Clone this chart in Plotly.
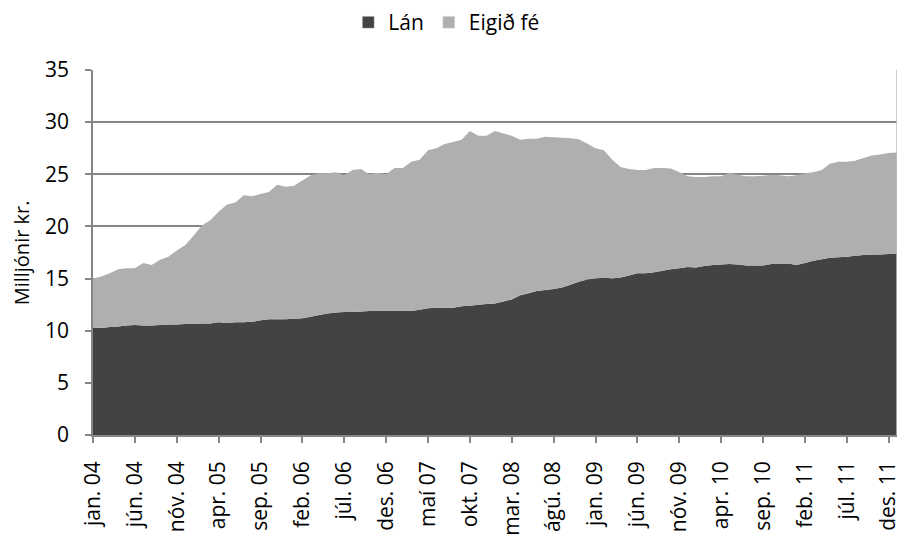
import plotly.graph_objects as go

month_names = ["jan.", "feb.", "mar.", "apr.", "maí", "jún.", "júl.", "ágú.", "sep.", "okt.", "nóv.", "des."]
years = ["04", "05", "06", "07", "08", "09", "10", "11", "12"]
categories = [f"{m} {y}" for y in years for m in month_names][:97]

lan = [10.3, 10.25, 10.35, 10.4, 10.5, 10.55, 10.5, 10.5, 10.55, 10.6,
       10.6, 10.65, 10.65, 10.7, 10.7, 10.8, 10.75, 10.8, 10.8, 10.85,
       11.0, 11.1, 11.1, 11.1, 11.15, 11.2, 11.35, 11.5, 11.65, 11.75,
       11.8, 11.8, 11.85, 11.9, 11.9, 11.9, 11.9, 11.95, 11.9, 12.0,
       12.15, 12.2, 12.2, 12.2, 12.35, 12.4, 12.5, 12.55, 12.6, 12.8,
       13.0, 13.4, 13.6, 13.8, 13.9, 14.0, 14.15, 14.4, 14.7, 14.9,
       15.0, 15.1, 15.0, 15.1, 15.3, 15.5, 15.5, 15.6, 15.75, 15.9,
       16.0, 16.1, 16.05, 16.2, 16.3, 16.35, 16.4, 16.35, 16.25, 16.25,
       16.25, 16.4, 16.4, 16.45, 16.3, 16.5, 16.7, 16.85, 17.0, 17.05,
       17.1, 17.2, 17.25, 17.3, 17.3, 17.35, 17.4]

eigid_fe = [4.7, 4.95, 5.15, 5.5, 5.5, 5.45, 6.0, 5.8, 6.25, 6.5,
            7.1, 7.55, 8.45, 9.4, 9.9, 10.6, 11.35, 11.5, 12.2, 12.05,
            12.1, 12.2, 12.9, 12.7, 12.75, 13.2, 13.55, 13.6, 13.45, 13.45,
            13.1, 13.6, 13.65, 13.1, 13.25, 13.1, 13.7, 13.65, 14.3, 14.4,
            15.15, 15.3, 15.7, 15.9, 15.95, 16.75, 16.2, 16.15, 16.55, 16.1,
            15.7, 14.9, 14.8, 14.6, 14.7, 14.55, 14.35, 14.05, 13.65, 13.05,
            12.5, 12.2, 11.4, 10.6, 10.2, 9.9, 9.9, 10.0, 9.85, 9.65,
            9.2, 8.7, 8.7, 8.55, 8.5, 8.45, 8.75, 8.6, 8.55, 8.55,
            8.6, 8.55, 8.5, 8.35, 8.6, 8.6, 8.5, 8.55, 9.0, 9.15,
            9.1, 9.1, 9.3, 9.5, 9.6, 9.7, 9.7]

y_ticks = [0, 5, 10, 15, 20, 25, 30, 35]
x_tick_labels = categories[0:96:5]
y_title = "Milljónir kr."

FONT = "Open Sans"
AXIS_GREY = "#868686"
DARK = "#434343"
LIGHT = "#AFAFAF"

fig = go.Figure()
fig.add_trace(go.Scatter(
    x=categories, y=lan, name="Lán", stackgroup="one", mode="none",
    fillcolor=DARK, line=dict(width=0), showlegend=False,
))
fig.add_trace(go.Scatter(
    x=categories, y=eigid_fe, name="Eigið fé", stackgroup="one", mode="none",
    fillcolor=LIGHT, line=dict(width=0), showlegend=False,
))
# legend entries with square swatches
fig.add_trace(go.Bar(x=[None], y=[None], name="Lán", marker=dict(color=DARK), showlegend=True))
fig.add_trace(go.Bar(x=[None], y=[None], name="Eigið fé", marker=dict(color=LIGHT), showlegend=True))

fig.update_layout(
    width=897, height=528,
    margin=dict(l=85, r=8, t=62, b=101, autoexpand=False),
    paper_bgcolor="white", plot_bgcolor="white",
    font=dict(family=FONT, size=21, color="#000000"),
    showlegend=True,
    legend=dict(orientation="h", x=0.44, xanchor="center", y=1.186, yanchor="top",
                font=dict(family=FONT, size=21), itemwidth=30, traceorder="normal",
                bgcolor="rgba(0,0,0,0)", borderwidth=0),
    xaxis=dict(
        type="category", range=[0, 96], automargin=False,
        tickmode="array", tickvals=x_tick_labels, ticktext=x_tick_labels,
        tickangle=-90, tickfont=dict(family=FONT, size=21),
        ticks="outside", ticklen=6, tickcolor=AXIS_GREY, tickwidth=1.5,
        ticklabelstandoff=10,
        showline=True, linecolor=AXIS_GREY, linewidth=1.5,
        showgrid=False, zeroline=False,
    ),
    yaxis=dict(
        range=[0, 35], tickmode="array", tickvals=y_ticks, automargin=False,
        tickfont=dict(family=FONT, size=21),
        ticks="outside", ticklen=6, tickcolor=AXIS_GREY, tickwidth=1.5,
        ticklabelstandoff=12,
        showline=True, linecolor=AXIS_GREY, linewidth=1.5,
        showgrid=True, gridcolor=AXIS_GREY, gridwidth=1.5,
        zeroline=False,
    ),
    annotations=[dict(text=y_title, xref="paper", yref="paper", x=-0.0885, y=0.5,
                      xanchor="center", yanchor="middle", textangle=-90, showarrow=False,
                      font=dict(family=FONT, size=20))],
    shapes=[dict(type="line", xref="paper", yref="paper", x0=1, x1=1, y0=0, y1=1,
                 line=dict(color="#BFBFBF", width=1.5), layer="above")],
)

fig.write_html("out.html")
